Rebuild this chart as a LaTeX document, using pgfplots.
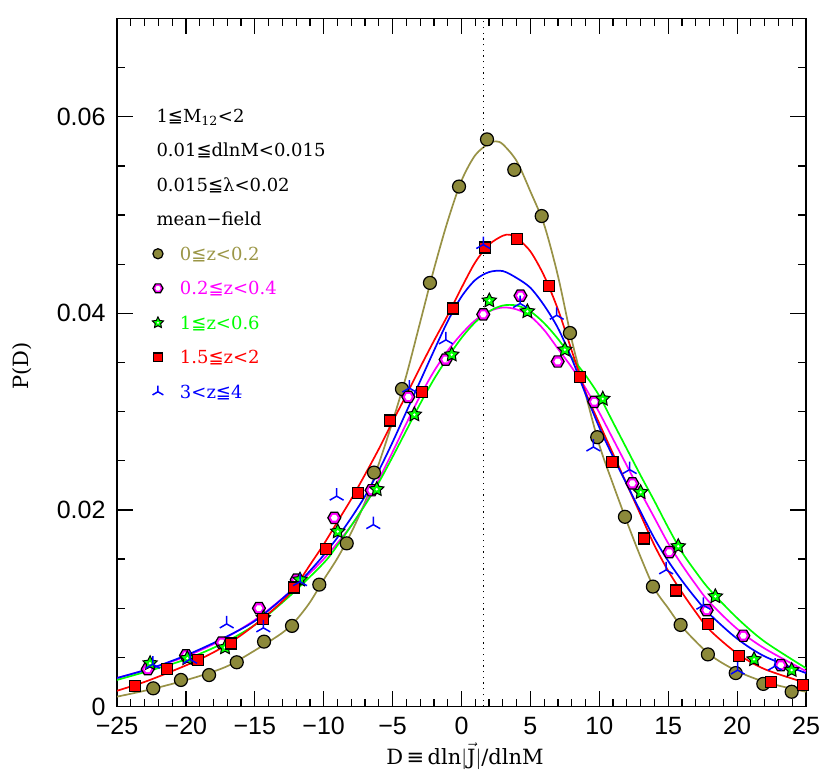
\documentclass[border=0pt]{standalone}
\usepackage{pgfplots}
\pgfplotsset{compat=1.18}
\usetikzlibrary{calc}
\usepackage{fontspec}
\setmainfont{DejaVu Serif}
\newfontfamily\ticfont{Liberation Sans}
\newfontfamily\symf{DejaVu Sans}
\newcommand\lqq{{\symf ≦}}
\definecolor{olivef}{RGB}{140,137,58}
\definecolor{olivec}{RGB}{152,146,70}
\definecolor{olivet}{RGB}{155,150,70}
\definecolor{mag}{RGB}{255,0,255}
\definecolor{grn}{RGB}{0,255,0}
\definecolor{rd}{RGB}{255,0,0}
\definecolor{bl}{RGB}{0,0,255}

\pgfdeclareplotmark{hexring}{%
  \pgfpathmoveto{\pgfpointpolar{0}{\pgfplotmarksize}}%
  \pgfpathlineto{\pgfpointpolar{60}{\pgfplotmarksize}}%
  \pgfpathlineto{\pgfpointpolar{120}{\pgfplotmarksize}}%
  \pgfpathlineto{\pgfpointpolar{180}{\pgfplotmarksize}}%
  \pgfpathlineto{\pgfpointpolar{240}{\pgfplotmarksize}}%
  \pgfpathlineto{\pgfpointpolar{300}{\pgfplotmarksize}}%
  \pgfpathclose
  \pgfsetfillcolor{mag}\pgfsetstrokecolor{black}%
  \pgfusepath{fill,stroke}%
  \pgfpathmoveto{\pgfpointpolar{0}{0.52*\pgfplotmarksize}}%
  \pgfpathlineto{\pgfpointpolar{60}{0.52*\pgfplotmarksize}}%
  \pgfpathlineto{\pgfpointpolar{120}{0.52*\pgfplotmarksize}}%
  \pgfpathlineto{\pgfpointpolar{180}{0.52*\pgfplotmarksize}}%
  \pgfpathlineto{\pgfpointpolar{240}{0.52*\pgfplotmarksize}}%
  \pgfpathlineto{\pgfpointpolar{300}{0.52*\pgfplotmarksize}}%
  \pgfpathclose
  \pgfsetfillcolor{white}%
  \pgfusepath{fill}%
}
\pgfdeclareplotmark{gstar}{%
  \pgfpathmoveto{\pgfpointpolar{90}{\pgfplotmarksize}}%
  \pgfpathlineto{\pgfpointpolar{126}{0.5*\pgfplotmarksize}}%
  \pgfpathlineto{\pgfpointpolar{162}{\pgfplotmarksize}}%
  \pgfpathlineto{\pgfpointpolar{198}{0.5*\pgfplotmarksize}}%
  \pgfpathlineto{\pgfpointpolar{234}{\pgfplotmarksize}}%
  \pgfpathlineto{\pgfpointpolar{270}{0.5*\pgfplotmarksize}}%
  \pgfpathlineto{\pgfpointpolar{306}{\pgfplotmarksize}}%
  \pgfpathlineto{\pgfpointpolar{342}{0.5*\pgfplotmarksize}}%
  \pgfpathlineto{\pgfpointpolar{18}{\pgfplotmarksize}}%
  \pgfpathlineto{\pgfpointpolar{54}{0.5*\pgfplotmarksize}}%
  \pgfpathclose
  \pgfsetfillcolor{grn}\pgfsetstrokecolor{black}%
  \pgfusepath{fill,stroke}%
  \pgfpathcircle{\pgfpointorigin}{0.18*\pgfplotmarksize}%
  \pgfsetfillcolor{white}%
  \pgfusepath{fill}%
}
\pgfdeclareplotmark{tripod}{%
  \pgfpathmoveto{\pgfpointorigin}\pgfpathlineto{\pgfpointpolar{90}{\pgfplotmarksize}}%
  \pgfpathmoveto{\pgfpointorigin}\pgfpathlineto{\pgfpointpolar{210}{\pgfplotmarksize}}%
  \pgfpathmoveto{\pgfpointorigin}\pgfpathlineto{\pgfpointpolar{330}{\pgfplotmarksize}}%
  \pgfusepathqstroke
}

\pgfplotstableread{
x y
-22.37 0.00185
-20.36 0.0027
-18.32 0.0032
-16.31 0.0045
-14.33 0.0066
-12.30 0.0082
-10.32 0.0124
-8.33 0.0166
-6.35 0.0238
-4.32 0.0323
-2.29 0.0431
-0.18 0.0529
1.85 0.0577
3.83 0.0546
5.82 0.0499
7.87 0.0380
9.85 0.0274
11.86 0.0193
13.89 0.0122
15.90 0.0083
17.88 0.0053
19.90 0.0034
21.90 0.0023
23.96 0.0015
}\olivepts
\pgfplotstableread{
x y
-22.77 0.0038
-19.99 0.0052
-17.40 0.0065
-14.70 0.0100
-11.96 0.0129
-9.23 0.0192
-6.52 0.0220
-3.86 0.0315
-1.15 0.0353
1.58 0.0399
4.28 0.0418
6.98 0.0351
9.64 0.0310
12.40 0.0227
15.08 0.0157
17.79 0.0098
20.45 0.0072
23.17 0.0042
}\magpts
\pgfplotstableread{
x y
-22.60 0.0044
-19.90 0.0049
-17.16 0.0060
-14.38 0.0090
-11.72 0.0129
-8.98 0.0178
-6.15 0.0221
-3.42 0.0297
-0.71 0.0358
2.02 0.0413
4.78 0.0402
7.50 0.0363
10.25 0.0313
13.00 0.0218
15.73 0.0163
18.42 0.0112
21.23 0.0048
23.96 0.0037
}\grnpts
\pgfplotstableread{
x y
-23.69 0.0021
-21.35 0.0038
-19.10 0.0047
-16.75 0.0064
-14.43 0.0089
-12.13 0.0121
-9.83 0.0160
-7.53 0.0217
-5.19 0.0291
-2.89 0.0320
-0.64 0.0405
1.71 0.0467
4.00 0.0476
6.35 0.0428
8.62 0.0335
10.95 0.0249
13.24 0.0171
15.54 0.0118
17.89 0.0084
20.16 0.0051
22.46 0.0025
24.76 0.0022
}\redpts
\pgfplotstableread{
x y
-22.40 0.0043
-19.70 0.0048
-17.04 0.0084
-14.38 0.0080
-11.72 0.0127
-9.06 0.0214
-6.40 0.0185
-3.79 0.0324
-1.13 0.0373
1.58 0.0470
4.25 0.0410
6.91 0.0398
9.57 0.0264
12.20 0.0241
14.85 0.0139
17.55 0.0103
20.04 0.0037
22.75 0.0041
}\bluepts

\pgfplotstableread{
x y
-25 0.0010
-23 0.0016
-21 0.0023
-19 0.0031
-17 0.0041
-15 0.0057
-13 0.0075
-12 0.0088
-11 0.0106
-10 0.0129
-9 0.0151
-8 0.0177
-7 0.0208
-6 0.0247
-5 0.0290
-4 0.0337
-3 0.0391
-2 0.0445
-1 0.0494
0 0.0535
1 0.0561
2 0.0573
2.5 0.0575
3 0.0572
4 0.0555
5 0.0524
6 0.0490
7 0.0438
8 0.0373
9 0.0318
10 0.0266
11 0.0226
12 0.0188
13 0.0152
14 0.0120
15 0.0100
16 0.0081
18 0.0053
20 0.0036
22 0.0025
24 0.0018
25 0.0015
}\olivecur
\pgfplotstableread{
x y
-25 0.0029
-22.5 0.0039
-20 0.0051
-17.5 0.0067
-15 0.0088
-12.5 0.0116
-10 0.0150
-8 0.0184
-7 0.0206
-6 0.0231
-5 0.0259
-4 0.0288
-3 0.0316
-2 0.0341
-1 0.0362
0 0.0379
1 0.0393
2 0.0402
3 0.0406
4 0.0404
5 0.0397
6 0.0383
7 0.0364
8 0.0345
9 0.0324
10 0.0299
11 0.0272
12 0.0245
13 0.0218
14 0.0192
15 0.0166
16 0.0144
17 0.0124
18 0.0106
20 0.0079
22 0.0059
25 0.0036
}\magcur
\pgfplotstableread{
x y
-25 0.0027
-22.5 0.0037
-20 0.0048
-17.5 0.0063
-15 0.0083
-12.5 0.0112
-10 0.0146
-9 0.0164
-8 0.0184
-7 0.0205
-6 0.0228
-5 0.0254
-4 0.0281
-3 0.0308
-2 0.0333
-1 0.0355
0 0.0375
1 0.0391
2 0.0402
3 0.0408
4 0.0408
5 0.0402
6 0.0390
7 0.0374
8 0.0355
9 0.0337
10 0.0316
11 0.0289
12 0.0262
13 0.0235
14 0.0209
15 0.0182
16 0.0157
17 0.0137
18 0.0119
20 0.0090
22 0.0066
25 0.0039
}\grncur
\pgfplotstableread{
x y
-25 0.0016
-23 0.0025
-21 0.0036
-19 0.0048
-17 0.0063
-15 0.0083
-13 0.0107
-12 0.0123
-11 0.0144
-10 0.0165
-9 0.0188
-8 0.0211
-7 0.0236
-6 0.0262
-5 0.0290
-4 0.0317
-3 0.0345
-2 0.0372
-1 0.0398
0 0.0426
1 0.0452
2 0.0470
3 0.0479
3.5 0.0480
4 0.0477
5 0.0463
6 0.0438
7 0.0404
8 0.0362
9 0.0320
10 0.0288
11 0.0257
12 0.0226
13 0.0195
14 0.0164
15 0.0138
16 0.0116
17 0.0096
18 0.0078
20 0.0054
22 0.0038
25 0.0024
}\redcur
\pgfplotstableread{
x y
-25 0.0029
-22.5 0.0039
-20 0.0052
-17.5 0.0068
-15 0.0087
-12.5 0.0116
-11 0.0138
-10 0.0154
-9 0.0172
-8 0.0192
-7 0.0214
-6 0.0240
-5 0.0269
-4 0.0300
-3 0.0331
-2 0.0362
-1 0.0392
0 0.0417
1 0.0434
2 0.0442
3 0.0443
4 0.0436
5 0.0426
6 0.0408
7 0.0385
8 0.0354
9 0.0318
10 0.0284
11 0.0254
12 0.0226
13 0.0198
14 0.0171
15 0.0148
16 0.0128
17 0.0110
18 0.0094
20 0.0069
22 0.0051
25 0.0034
}\bluecur

\newcommand\legfont{\fontsize{18}{21}\selectfont}

\begin{document}
\begin{tikzpicture}
\begin{axis}[
  scale only axis, width=689pt, height=688pt,
  xmin=-25, xmax=25, ymin=0, ymax=0.07,
  xtick={-25,-20,-15,-10,-5,0,5,10,15,20,25},
  xticklabels={−25,−20,−15,−10,−5,0,5,10,15,20,25},
  minor x tick num=4,
  ytick={0,0.02,0.04,0.06},
  yticklabels={0,0.02,0.04,0.06},
  minor ytick={0.005,0.01,0.015,0.025,0.03,0.035,0.045,0.05,0.055,0.065},
  tick align=inside,
  xtick pos=both, ytick pos=both,
  xticklabel pos=lower, yticklabel pos=left,
  major tick length=16pt, minor tick length=8pt,
  axis line style={line width=1.2pt},
  every tick/.style={black, line width=1.2pt},
  tick label style={font=\ticfont\fontsize{25}{30}\selectfont},
  yticklabel style={xshift=-8pt},
  xticklabel style={yshift=-7pt},
  xlabel={D\,{\symf ≡}\,dln$|\vec{\mbox{J}}|$/dlnM},
  xlabel style={font=\fontsize{21}{25}\selectfont, at={(axis description cs:0.505,-0.0836)}, anchor=base},
  ylabel={P(D)},
  ylabel style={font=\fontsize{21}{25}\selectfont, at={(axis description cs:-0.138,0.495)}, anchor=center},
  legend cell align=left,
  legend image code/.code={\path[draw=none, fill=none] (-7pt,-7pt) rectangle (7pt,7pt); \draw[#1, every mark/.append style={scale=0.78}] plot coordinates {(0pt,0pt)};},
  legend style={draw=none, fill=none, at={(axis description cs:0.0493,0.6704)}, anchor=north west,
    inner sep=0pt, outer sep=0pt, row sep=17.5pt,
    nodes={inner sep=0pt, text height=15pt, text depth=2pt, font=\legfont},
    /tikz/every odd column/.append style={column sep=15pt}},
]
\addplot[only marks, mark=*, mark size=6.5pt, mark options={fill=olivef, draw=black, line width=1.2pt}] table {\olivepts};
\addlegendentry[text=olivet]{0\lqq z<0.2}
\addplot[only marks, mark=hexring, mark size=6.5pt, mark options={line width=1.2pt}] table {\magpts};
\addlegendentry[text=mag]{0.2\lqq z<0.4}
\addplot[only marks, mark=gstar, mark size=7.5pt, mark options={line width=1.0pt}] table {\grnpts};
\addlegendentry[text=grn]{1\lqq z<0.6}
\addplot[only marks, mark=square*, mark size=5.5pt, mark options={fill=rd, draw=black, line width=1.2pt}] table {\redpts};
\addlegendentry[text=rd]{1.5\lqq z<2}
\addplot[only marks, mark=tripod, mark size=8pt, mark options={draw=bl, line width=1.5pt}] table {\bluepts};
\addlegendentry[text=bl]{3<z\lqq 4}

\addplot[forget plot, olivec, line width=1.7pt, smooth] table {\olivecur};
\addplot[forget plot, mag, line width=1.7pt, smooth] table {\magcur};
\addplot[forget plot, grn, line width=1.7pt, smooth] table {\grncur};
\addplot[forget plot, rd, line width=1.7pt, smooth] table {\redcur};
\addplot[forget plot, bl, line width=1.7pt, smooth] table {\bluecur};
\addplot[forget plot, black, line width=1.3pt, dash pattern=on 1.3pt off 4.4pt] coordinates {(1.6,0) (1.6,0.07)};

\node[anchor=base west, font=\legfont] at (axis description cs:0.0522,0.8491) {1\lqq M\textsubscript{12}<2};
\node[anchor=base west, font=\legfont] at (axis description cs:0.0522,0.7990) {0.01\lqq dlnM<0.015};
\node[anchor=base west, font=\legfont] at (axis description cs:0.0522,0.7488) {0.015\lqq λ<0.02};
\node[anchor=base west, font=\legfont] at (axis description cs:0.0522,0.6987) {mean−field};
\end{axis}
\pgfresetboundingbox
\path[use as bounding box] ($(current axis.south west)+(-117pt,-70.5pt)$) rectangle ($(current axis.north east)+(24pt,18.5pt)$);
\end{tikzpicture}
\end{document}
